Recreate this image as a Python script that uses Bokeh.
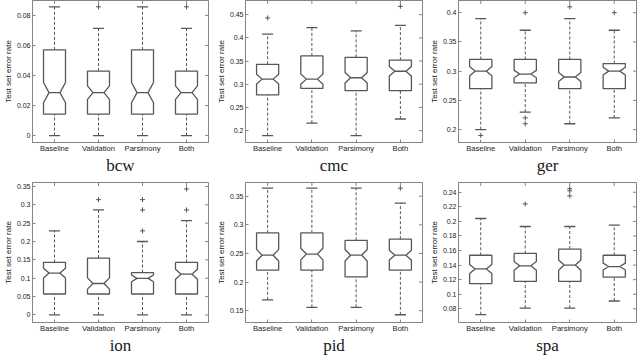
import math
from bokeh.plotting import figure
from bokeh.models import Range1d, FixedTicker
from bokeh.layouts import row, column
from bokeh.embed import file_html
from bokeh.resources import INLINE

# ---------------- data ----------------
categories = ["Baseline", "Validation", "Parsimony", "Both"]
n_runs = 100  # sample size used for the notch width

bcw_upper = [0.0857, 0.0714, 0.0857, 0.0714]
bcw_q3 = [0.0571, 0.0429, 0.0571, 0.0429]
bcw_median = [0.0286, 0.0286, 0.0286, 0.0286]
bcw_q1 = [0.0143, 0.0143, 0.0143, 0.0143]
bcw_lower = [0.0, 0.0, 0.0, 0.0]
bcw_outliers = [[], [0.0857], [], [0.0857]]
bcw_ticks = [0, 0.02, 0.04, 0.06, 0.08]
bcw_tick_labels = ["0", "0.02", "0.04", "0.06", "0.08"]

cmc_upper = [0.408, 0.422, 0.415, 0.427]
cmc_q3 = [0.343, 0.361, 0.358, 0.352]
cmc_median = [0.311, 0.311, 0.314, 0.328]
cmc_q1 = [0.277, 0.291, 0.286, 0.286]
cmc_lower = [0.189, 0.216, 0.189, 0.225]
cmc_outliers = [[0.443], [], [], [0.468]]
cmc_ticks = [0.2, 0.25, 0.3, 0.35, 0.4, 0.45]
cmc_tick_labels = ["0.2", "0.25", "0.3", "0.35", "0.4", "0.45"]

ger_upper = [0.39, 0.37, 0.39, 0.37]
ger_q3 = [0.32, 0.32, 0.32, 0.313]
ger_median = [0.30, 0.295, 0.29, 0.30]
ger_q1 = [0.27, 0.28, 0.27, 0.27]
ger_lower = [0.20, 0.23, 0.21, 0.22]
ger_outliers = [[0.19], [0.40, 0.22, 0.21], [0.41], [0.40]]
ger_ticks = [0.2, 0.25, 0.3, 0.35, 0.4]
ger_tick_labels = ["0.2", "0.25", "0.3", "0.35", "0.4"]

ion_upper = [0.229, 0.286, 0.200, 0.257]
ion_q3 = [0.143, 0.155, 0.1155, 0.143]
ion_median = [0.114, 0.0857, 0.0995, 0.111]
ion_q1 = [0.0571, 0.0571, 0.0571, 0.0571]
ion_lower = [0.0, 0.0, 0.0, 0.0]
ion_outliers = [[], [0.314], [0.314, 0.286, 0.229], [0.343, 0.286]]
ion_ticks = [0, 0.05, 0.1, 0.15, 0.2, 0.25, 0.3, 0.35]
ion_tick_labels = ["0", "0.05", "0.1", "0.15", "0.2", "0.25", "0.3", "0.35"]

pid_upper = [0.364, 0.364, 0.364, 0.338]
pid_q3 = [0.286, 0.286, 0.273, 0.275]
pid_median = [0.247, 0.249, 0.247, 0.247]
pid_q1 = [0.221, 0.221, 0.209, 0.221]
pid_lower = [0.169, 0.156, 0.156, 0.143]
pid_outliers = [[], [], [], [0.364]]
pid_ticks = [0.15, 0.2, 0.25, 0.3, 0.35]
pid_tick_labels = ["0.15", "0.2", "0.25", "0.3", "0.35"]

spa_upper = [0.204, 0.193, 0.193, 0.195]
spa_q3 = [0.1535, 0.156, 0.162, 0.1535]
spa_median = [0.1347, 0.139, 0.140, 0.138]
spa_q1 = [0.1145, 0.1176, 0.1176, 0.1235]
spa_lower = [0.072, 0.081, 0.081, 0.0907]
spa_outliers = [[], [0.224], [0.245, 0.242, 0.235], []]
spa_ticks = [0.08, 0.1, 0.12, 0.14, 0.16, 0.18, 0.2, 0.22, 0.24]
spa_tick_labels = ["0.08", "0.1", "0.12", "0.14", "0.16", "0.18", "0.2", "0.22", "0.24"]

# ---------------- styling ----------------
LINE = "#575757"
FRAME = "#858585"
TEXT = "#1a1a1a"
BOX_W = 0.5


def make_panel(name, upper, q3, med, q1, lower, outliers, ticks, tick_labels,
               yr, width, height, left, right, top, bottom):
    p = figure(width=width, height=height, output_backend="svg", toolbar_location=None,
               x_range=Range1d(0.5, 4.5), y_range=Range1d(*yr),
               min_border_left=left, min_border_right=right,
               min_border_top=top, min_border_bottom=bottom,
               background_fill_color="white", border_fill_color="white")
    p.grid.visible = False
    p.outline_line_color = FRAME
    p.outline_line_width = 1

    xpos = list(range(1, len(categories) + 1))

    # notched boxes
    xs, ys = [], []
    for x, a, m, b in zip(xpos, q1, med, q3):
        h = 1.57 * (b - a) / math.sqrt(n_runs)
        lo, hi = m - h, m + h
        xs.append([x - BOX_W / 2, x - BOX_W / 2, x - BOX_W / 4, x - BOX_W / 2, x - BOX_W / 2,
                   x + BOX_W / 2, x + BOX_W / 2, x + BOX_W / 4, x + BOX_W / 2, x + BOX_W / 2])
        ys.append([a, lo, m, hi, b, b, hi, m, lo, a])
    p.patches(xs, ys, fill_alpha=0, line_color=LINE, line_width=1.3)

    # medians
    p.segment(x0=[x - BOX_W / 4 for x in xpos], x1=[x + BOX_W / 4 for x in xpos],
              y0=med, y1=med, line_color=LINE, line_width=1.3)

    # whiskers (dashed)
    p.segment(x0=xpos, x1=xpos, y0=q3, y1=upper, line_color=LINE, line_width=1,
              line_dash="3 2")
    p.segment(x0=xpos, x1=xpos, y0=lower, y1=q1, line_color=LINE, line_width=1,
              line_dash="3 2")
    # caps
    for vals in (upper, lower):
        p.segment(x0=[x - BOX_W / 4 for x in xpos], x1=[x + BOX_W / 4 for x in xpos],
                  y0=vals, y1=vals, line_color=LINE, line_width=1.3)

    # outliers
    ox, oy = [], []
    for x, outs in zip(xpos, outliers):
        for v in outs:
            ox.append(x)
            oy.append(v)
    if ox:
        p.scatter(ox, oy, marker="cross", size=5, line_color=LINE, line_width=1)

    # mirrored tick marks on the right and top edges of the box
    xr, yrng = p.x_range, p.y_range
    p.scatter([xr.end] * len(ticks), ticks, marker="dash", size=7,
              line_color=FRAME, line_width=1)
    p.scatter(xpos, [yrng.end] * len(xpos), marker="dash", angle=math.pi / 2,
              size=7, line_color=FRAME, line_width=1)

    # axes
    xa = p.xaxis[0]
    xa.ticker = FixedTicker(ticks=xpos)
    xa.major_label_overrides = {x: c for x, c in zip(xpos, categories)}
    xa.major_label_text_font = "Liberation Sans"
    xa.major_label_text_font_size = "7.6px"
    xa.major_label_text_color = TEXT
    xa.major_label_standoff = 1
    xa.major_tick_in = 3
    xa.major_tick_out = 0
    xa.minor_tick_line_color = None
    xa.axis_line_color = FRAME
    xa.major_tick_line_color = FRAME
    xa.axis_label = name
    xa.axis_label_text_font = "Liberation Serif"
    xa.axis_label_text_font_style = "normal"
    xa.axis_label_text_font_size = "17px"
    xa.axis_label_text_color = TEXT
    xa.axis_label_standoff = 0

    ya = p.yaxis[0]
    ya.ticker = FixedTicker(ticks=ticks)
    ya.major_label_overrides = {t: s for t, s in zip(ticks, tick_labels)}
    ya.major_label_text_font = "Liberation Sans"
    ya.major_label_text_font_size = "7px"
    ya.major_label_text_color = TEXT
    ya.major_label_standoff = 2
    ya.major_tick_in = 3
    ya.major_tick_out = 0
    ya.minor_tick_line_color = None
    ya.axis_line_color = FRAME
    ya.major_tick_line_color = FRAME
    ya.axis_label = "Test set error rate"
    ya.axis_label_text_font = "Liberation Sans"
    ya.axis_label_text_font_style = "normal"
    ya.axis_label_text_font_size = "8px"
    ya.axis_label_text_color = TEXT
    ya.axis_label_standoff = 1
    return p


p1 = make_panel("bcw", bcw_upper, bcw_q3, bcw_median, bcw_q1, bcw_lower, bcw_outliers,
                bcw_ticks, bcw_tick_labels, (-0.0046, 0.0899), 213, 177, 26, 5, 0, 34)
p2 = make_panel("cmc", cmc_upper, cmc_q3, cmc_median, cmc_q1, cmc_lower, cmc_outliers,
                cmc_ticks, cmc_tick_labels, (0.1743, 0.4806), 213, 177, 26, 4, 0, 34)
p3 = make_panel("ger", ger_upper, ger_q3, ger_median, ger_q1, ger_lower, ger_outliers,
                ger_ticks, ger_tick_labels, (0.1779, 0.4209), 214, 177, 32, 4, 0, 34)
p4 = make_panel("ion", ion_upper, ion_q3, ion_median, ion_q1, ion_lower, ion_outliers,
                ion_ticks, ion_tick_labels, (-0.0205, 0.3607), 213, 180, 26, 5, 5, 32)
p5 = make_panel("pid", pid_upper, pid_q3, pid_median, pid_q1, pid_lower, pid_outliers,
                pid_ticks, pid_tick_labels, (0.1295, 0.3739), 213, 180, 26, 4, 5, 32)
p6 = make_panel("spa", spa_upper, spa_q3, spa_median, spa_q1, spa_lower, spa_outliers,
                spa_ticks, spa_tick_labels, (0.0612, 0.2534), 214, 180, 32, 4, 5, 32)

layout = column(row(p1, p2, p3), row(p4, p5, p6))

with open("out.html", "w") as f:
    f.write(file_html(layout, INLINE))
